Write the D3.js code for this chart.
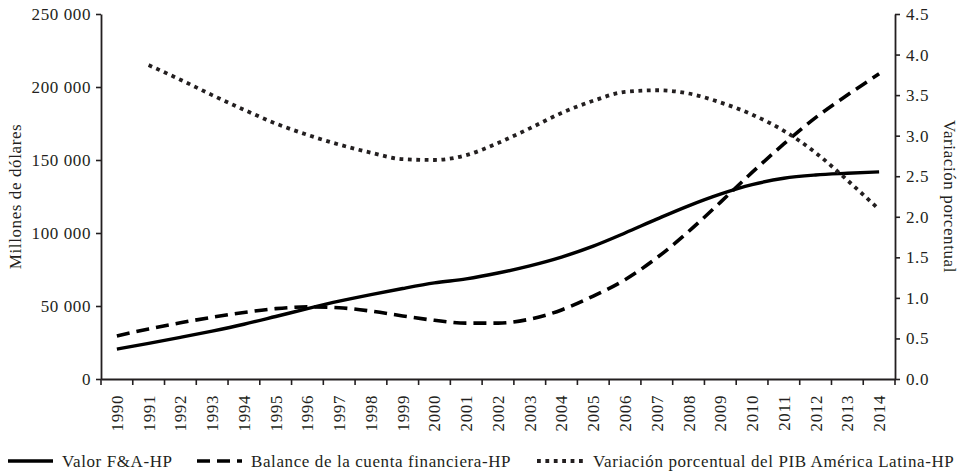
<!DOCTYPE html>
<html><head><meta charset="utf-8">
<script src="https://cdn.jsdelivr.net/npm/d3@7"></script>
<style>
html,body{margin:0;padding:0;background:#fff;}
svg text{font-family:"Liberation Serif","DejaVu Serif",serif;fill:#231f20;letter-spacing:0.6px;}
</style></head>
<body><svg id="chart" width="963" height="476"></svg>
<script>
const years = [1990,1991,1992,1993,1994,1995,1996,1997,1998,1999,2000,2001,2002,2003,2004,2005,2006,2007,2008,2009,2010,2011,2012,2013,2014];
const valorFA = [20500,24400,28500,32800,37500,42800,48200,53300,57800,62000,65800,68600,72600,77500,83500,91000,100000,109500,118600,126600,133100,137500,139700,140900,141900];
const balance = [29500,34300,38500,42300,45600,48200,49400,48800,46500,43200,40200,38300,38300,41000,47300,56800,68000,83000,101000,121000,141500,161000,179000,194500,209000];
const pibYears = [1991,1992,1993,1994,1995,1996,1997,1998,1999,2000,2001,2002,2003,2004,2005,2006,2007,2008,2009,2010,2011,2012,2013,2014];
const pib = [3.87,3.69,3.50,3.32,3.15,3.01,2.89,2.79,2.71,2.70,2.76,2.91,3.09,3.28,3.43,3.54,3.56,3.52,3.41,3.26,3.06,2.79,2.45,2.09];
const leftTicks = [0,50000,100000,150000,200000,250000];
const rightTicks = [0,0.5,1.0,1.5,2.0,2.5,3.0,3.5,4.0,4.5];
const seriesNames = ["Valor F&A-HP","Balance de la cuenta financiera-HP","Variación porcentual del PIB América Latina-HP"];

const svg = d3.select("#chart");
const L = 101, R = 895, T = 14, B = 379;
const ink = "#231f20";
const fs = 17;

const x = d3.scaleBand().domain(years).range([L,R]).padding(0);
const yL = d3.scaleLinear().domain([0,250000]).range([B,T]);
const yR = d3.scaleLinear().domain([0,4.5]).range([B,T]);
const fmt = d => d3.format(",")(d).replace(/,/g," ");

// left axis
const ga = svg.append("g").attr("transform",`translate(${L},0)`)
  .call(d3.axisLeft(yL).tickValues(leftTicks).tickFormat(fmt).tickSize(5).tickSizeOuter(0).tickPadding(5));
// right axis
const gr = svg.append("g").attr("transform",`translate(${R},0)`)
  .call(d3.axisRight(yR).tickValues(rightTicks).tickFormat(d3.format(".1f")).tickSize(5).tickSizeOuter(0).tickPadding(6));
// bottom axis
const gb = svg.append("g").attr("transform",`translate(0,${B})`)
  .call(d3.axisBottom(x).tickSize(0).tickSizeOuter(0));
gb.selectAll(".tick text").attr("transform","rotate(-90)").attr("text-anchor","end")
  .attr("x",-16).attr("y",0).attr("dy","0.35em");
// boundary ticks
const bounds = years.map(y => x(y)).concat([R]);
gb.selectAll(".bt").data(bounds).enter().append("line")
  .attr("x1",d=>d).attr("x2",d=>d).attr("y1",0).attr("y2",6)
  .attr("stroke",ink).attr("stroke-width",1.6);

[ga,gr,gb].forEach(g=>{
  g.selectAll(".domain").attr("stroke",ink).attr("stroke-width",1.8);
  g.selectAll(".tick line").attr("stroke",ink).attr("stroke-width",1.6);
  g.selectAll(".tick text").attr("font-size",fs).style("font-family",'"Liberation Serif",serif').attr("fill",ink);
});

// axis titles
svg.append("text").attr("transform",`translate(21,${(T+B)/2}) rotate(-90)`)
  .attr("text-anchor","middle").attr("font-size",fs).text("Millones de dólares");
svg.append("text").attr("transform",`translate(944,${(T+B)/2}) rotate(90)`)
  .attr("text-anchor","middle").attr("font-size",fs).text("Variación porcentual");

const cx = y => x(y) + x.bandwidth()/2;
const lineL = d3.line().x(d=>cx(d[0])).y(d=>yL(d[1])).curve(d3.curveMonotoneX);
const lineR = d3.line().x(d=>cx(d[0])).y(d=>yR(d[1])).curve(d3.curveMonotoneX);

const styles = [
  {w:3.4, dash:null},
  {w:3.6, dash:"13,7"},
  {w:3.8, dash:"3.8,4.6"}
];
const plot = svg.append("g");
plot.append("path").datum(years.map((y,i)=>[y,valorFA[i]])).attr("d",lineL)
  .attr("fill","none").attr("stroke","#000").attr("stroke-width",styles[0].w);
plot.append("path").datum(years.map((y,i)=>[y,balance[i]])).attr("d",lineL)
  .attr("fill","none").attr("stroke","#000").attr("stroke-width",styles[1].w).attr("stroke-dasharray",styles[1].dash);
plot.append("path").datum(pibYears.map((y,i)=>[y,pib[i]])).attr("d",lineR)
  .attr("fill","none").attr("stroke",ink).attr("stroke-width",styles[2].w).attr("stroke-dasharray",styles[2].dash);

// legend
const legX = [8,197,537];
const leg = svg.append("g").attr("transform","translate(0,461)");
seriesNames.forEach((n,i)=>{
  const g = leg.append("g").attr("transform",`translate(${legX[i]},0)`);
  g.append("line").attr("x1",0).attr("x2",i===2?48:45).attr("y1",0).attr("y2",0)
    .attr("stroke",i===2?ink:"#000").attr("stroke-width",styles[i].w)
    .attr("stroke-dasharray",styles[i].dash);
  g.append("text").attr("x",i===2?56:54).attr("y",0).attr("dy","0.35em").attr("font-size",fs).text(n);
});
</script></body></html>
